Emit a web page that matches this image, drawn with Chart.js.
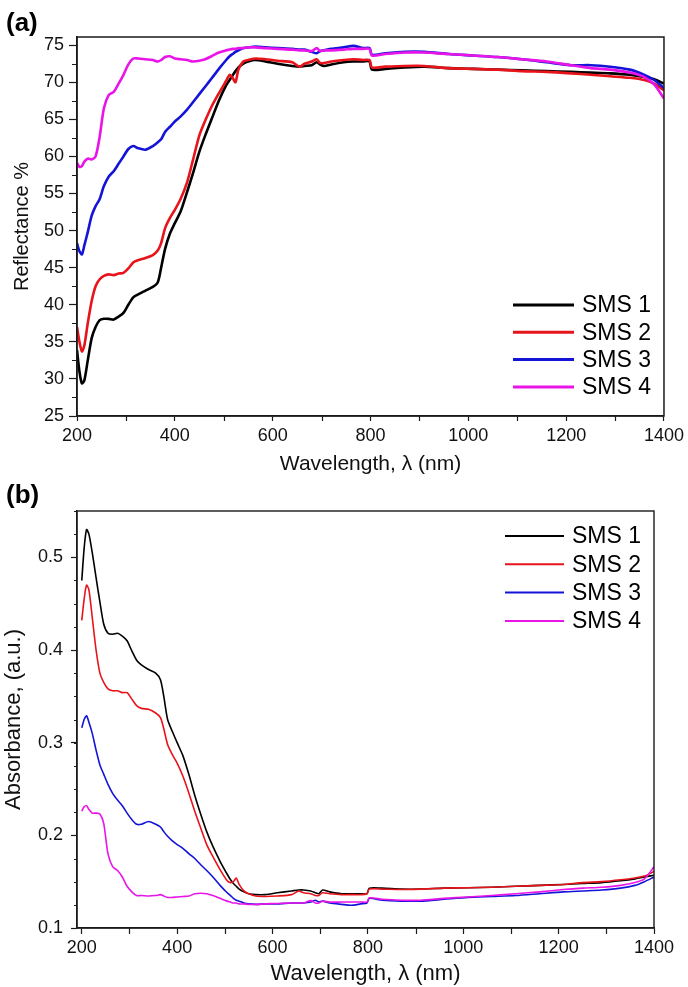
<!DOCTYPE html>
<html>
<head>
<meta charset="utf-8">
<script src="https://cdn.jsdelivr.net/npm/chart.js@4.4.1/dist/chart.umd.min.js"></script>
<style>
  html, body { margin: 0; padding: 0; background: #ffffff; }
  .panel { position: absolute; left: 0; width: 688px; }
  #panelA { top: 0; height: 480px; }
  #panelB { top: 480px; height: 507px; }
</style>
</head>
<body>
<div class="panel" id="panelA"><canvas id="reflectanceChart"></canvas></div>
<div class="panel" id="panelB"><canvas id="absorbanceChart"></canvas></div>
<script>
/* ==========================================================
   DATA
========================================================== */

const wavelengths = [
    200, 205, 210, 215, 222, 230, 238, 246, 255, 265,
    275, 285, 295, 305, 315, 325, 340, 355, 365, 372,
    380, 390, 400, 412, 425, 437, 450, 462, 475, 490,
    505, 512, 518, 524, 530, 540, 550, 565, 585, 610,
    640, 655, 665, 680, 690, 697, 705, 720, 745, 765,
    785, 798, 803, 830, 870, 910, 960, 1010, 1060, 1110,
    1160, 1210, 1250, 1290, 1330, 1360, 1380, 1400
];

// (a) Reflectance %
const sms1Reflectance = [
    33.9, 31.0, 29.4, 29.8, 32.5, 35.5, 37.0, 37.9, 38.1, 38.1,
    38.0, 38.4, 38.9, 40.0, 41.0, 41.4, 41.9, 42.4, 43.0, 45.0,
    47.5, 49.6, 51.0, 52.6, 55.2, 57.7, 60.6, 62.8, 65.0, 67.5,
    69.6, 70.3, 70.9, 71.5, 72.0, 72.5, 72.8, 73.0, 72.8, 72.5,
    72.2, 72.1, 72.2, 72.3, 72.7, 72.4, 72.2, 72.4, 72.7, 72.8,
    72.8, 72.8, 71.7, 71.8, 72.0, 72.1, 71.9, 71.8, 71.7, 71.6,
    71.5, 71.4, 71.3, 71.2, 71.0, 70.7, 70.4, 69.8
];
const sms2Reflectance = [
    37.0, 35.0, 33.7, 34.5, 37.5, 40.5, 42.5, 43.4, 43.9, 44.1,
    44.0, 44.2, 44.3, 44.9, 45.7, 46.0, 46.3, 46.7, 47.3, 48.3,
    50.3, 51.7, 52.8, 54.3, 56.5, 59.5, 62.8, 64.8, 66.7, 68.5,
    70.2, 71.0, 70.6, 70.0, 71.7, 72.8, 73.0, 73.2, 73.1, 72.9,
    72.7, 72.1, 72.5, 72.8, 73.1, 72.6, 72.6, 72.8, 73.0, 73.1,
    73.0, 73.0, 72.0, 72.1, 72.2, 72.2, 71.9, 71.8, 71.7, 71.5,
    71.4, 71.2, 71.0, 70.8, 70.6, 70.3, 69.8, 68.9
];
const sms3Reflectance = [
    48.3, 47.2, 46.8, 48.0, 49.8, 52.0, 53.3, 54.2, 56.0, 57.3,
    58.0, 59.0, 60.0, 61.0, 61.4, 61.1, 60.9, 61.4, 61.9, 62.3,
    63.3, 64.0, 64.7, 65.4, 66.3, 67.3, 68.4, 69.4, 70.5, 71.8,
    73.0, 73.5, 73.8, 74.1, 74.3, 74.6, 74.7, 74.8, 74.7, 74.6,
    74.5, 74.4, 74.4, 74.1, 73.9, 74.2, 74.3, 74.5, 74.7, 74.9,
    74.6, 74.6, 73.7, 73.9, 74.1, 74.1, 73.8, 73.6, 73.4, 73.1,
    72.7, 72.3, 72.3, 72.1, 71.7, 71.0, 70.3, 69.2
];
const sms4Reflectance = [
    59.1, 58.6, 58.7, 59.3, 59.7, 59.6, 60.0, 62.5, 66.5, 68.3,
    68.7, 69.8, 71.0, 72.4, 73.2, 73.2, 73.1, 73.0, 72.8, 73.0,
    73.4, 73.5, 73.2, 73.1, 73.0, 72.8, 72.9, 73.1, 73.5, 74.0,
    74.3, 74.4, 74.5, 74.5, 74.6, 74.6, 74.7, 74.7, 74.6, 74.5,
    74.4, 74.3, 74.3, 74.2, 74.6, 74.2, 74.3, 74.3, 74.4, 74.5,
    74.5, 74.5, 73.6, 73.8, 74.0, 74.0, 73.8, 73.6, 73.4, 73.1,
    72.8, 72.3, 71.9, 71.7, 71.3, 70.7, 69.7, 67.8
];

// (b) Absorbance (a.u.)
const sms1Absorbance = [
    0.475, 0.510, 0.530, 0.525, 0.505, 0.478, 0.452, 0.428, 0.418, 0.417,
    0.418, 0.415, 0.410, 0.399, 0.389, 0.384, 0.379, 0.375, 0.368, 0.350,
    0.325, 0.312, 0.300, 0.286, 0.265, 0.243, 0.222, 0.204, 0.188, 0.172,
    0.158, 0.152, 0.148, 0.145, 0.142, 0.139, 0.137, 0.136, 0.136, 0.138,
    0.140, 0.141, 0.141, 0.140, 0.138, 0.137, 0.141, 0.139, 0.137, 0.137,
    0.137, 0.137, 0.143, 0.143, 0.142, 0.142, 0.143, 0.1435, 0.144, 0.145,
    0.146, 0.147, 0.148, 0.149, 0.151, 0.153, 0.155, 0.157
];
const sms2Absorbance = [
    0.432, 0.455, 0.470, 0.465, 0.435, 0.400, 0.375, 0.365, 0.358, 0.356,
    0.356, 0.354, 0.354, 0.347, 0.340, 0.337, 0.336, 0.332, 0.327, 0.315,
    0.298, 0.287, 0.278, 0.264, 0.245, 0.226, 0.207, 0.190, 0.177, 0.163,
    0.151, 0.149, 0.150, 0.154, 0.147, 0.140, 0.137, 0.1345, 0.134, 0.1345,
    0.136, 0.140, 0.138, 0.137, 0.135, 0.135, 0.138, 0.137, 0.136, 0.136,
    0.136, 0.137, 0.142, 0.142, 0.1415, 0.142, 0.143, 0.1435, 0.144, 0.145,
    0.146, 0.147, 0.149, 0.150, 0.152, 0.154, 0.156, 0.161
];
const sms3Absorbance = [
    0.316, 0.325, 0.329, 0.322, 0.310, 0.292, 0.276, 0.266, 0.255, 0.245,
    0.238, 0.232, 0.224, 0.217, 0.212, 0.212, 0.215, 0.212, 0.209, 0.204,
    0.199, 0.194, 0.190, 0.186, 0.180, 0.175, 0.168, 0.162, 0.155, 0.146,
    0.138, 0.135, 0.132, 0.130, 0.129, 0.127, 0.126, 0.1255, 0.126, 0.126,
    0.127, 0.127, 0.127, 0.128, 0.130, 0.128, 0.129, 0.127, 0.1255, 0.1245,
    0.126, 0.127, 0.132, 0.130, 0.129, 0.129, 0.131, 0.133, 0.134, 0.135,
    0.137, 0.139, 0.140, 0.141, 0.143, 0.146, 0.150, 0.155
];
const sms4Absorbance = [
    0.226, 0.231, 0.232, 0.228, 0.224, 0.224, 0.223, 0.213, 0.180, 0.166,
    0.162, 0.155, 0.145, 0.139, 0.135, 0.135, 0.1345, 0.135, 0.136, 0.1345,
    0.133, 0.133, 0.1335, 0.134, 0.1345, 0.137, 0.1375, 0.137, 0.135, 0.132,
    0.129, 0.128, 0.127, 0.127, 0.126, 0.126, 0.1255, 0.1255, 0.126, 0.1265,
    0.127, 0.127, 0.127, 0.1295, 0.127, 0.127, 0.129, 0.128, 0.128, 0.128,
    0.128, 0.128, 0.1325, 0.131, 0.130, 0.130, 0.132, 0.1335, 0.135, 0.137,
    0.139, 0.1415, 0.143, 0.144, 0.146, 0.149, 0.153, 0.166
];

const sampleLabels = ["SMS 1", "SMS 2", "SMS 3", "SMS 4"];
const sampleColors = ["#000000", "#e8141b", "#1414d8", "#e814e8"];

const wavelengthTicks = [200, 400, 600, 800, 1000, 1200, 1400];
const reflectanceTicks = [25, 30, 35, 40, 45, 50, 55, 60, 65, 70, 75];
const absorbanceTicks = [0.1, 0.2, 0.3, 0.4, 0.5];

const FONT = "'Liberation Sans', Arial, sans-serif";

/* ==========================================================
   FRAME + MINOR TICKS + PANEL LABEL + LEGEND
========================================================== */

const figureDecorPlugin = {

    id: "figureDecor",

    afterDraw(chart, args, opts) {

        const {
            ctx,
            chartArea: { left, right, top, bottom },
            scales: { x, y }
        } = chart;

        ctx.save();

        // box round the plot
        ctx.strokeStyle = "#1a1a1a";
        ctx.lineWidth = opts.frameWidth;
        ctx.strokeRect(left, top, right - left, bottom - top);

        // minor ticks
        ctx.lineWidth = 1.2;
        ctx.beginPath();
        for (let v = opts.xMinorStart; v <= x.max + 1e-9; v += opts.xMinorStep) {
            const px = Math.round(x.getPixelForValue(v)) + 0.5;
            ctx.moveTo(px, bottom);
            ctx.lineTo(px, bottom + opts.xMinorLength);
        }
        for (let v = opts.yMinorStart; v <= y.max + 1e-9; v += opts.yMinorStep) {
            const py = Math.round(y.getPixelForValue(v)) + 0.5;
            ctx.moveTo(left, py);
            ctx.lineTo(left - opts.yMinorLength, py);
        }
        ctx.stroke();

        // panel label
        ctx.fillStyle = "#000000";
        ctx.font = opts.labelFont;
        ctx.textAlign = "left";
        ctx.textBaseline = "middle";
        ctx.fillText(opts.label, opts.labelX, opts.labelY);

        // legend
        const lg = opts.legend;
        ctx.font = lg.font;
        chart.data.datasets.forEach((ds, i) => {
            const ly = lg.y + i * lg.rowHeight;
            ctx.strokeStyle = ds.borderColor;
            ctx.lineWidth = lg.lineWidth;
            ctx.beginPath();
            ctx.moveTo(lg.x, ly);
            ctx.lineTo(lg.x + lg.lineLength, ly);
            ctx.stroke();
            ctx.fillStyle = "#000000";
            ctx.fillText(ds.label, lg.x + lg.lineLength + lg.gap, ly + 1);
        });

        ctx.restore();

    }

};

Chart.register(figureDecorPlugin);

/* ==========================================================
   GENERIC PANEL RENDERER
========================================================== */

function buildDatasets(series, lineWidth) {

    return series.map((values, i) => ({
        label: sampleLabels[i],
        data: wavelengths.map((w, j) => ({ x: w, y: values[j] })),
        borderColor: sampleColors[i],
        backgroundColor: sampleColors[i],
        borderWidth: lineWidth,
        pointRadius: 0,
        tension: 0.25,
        // SMS 4 on top, SMS 1 at the bottom
        order: series.length - i
    }));

}

function renderPanel(canvasId, p) {

    const canvas = document.getElementById(canvasId);

    const tickFont = { family: FONT, size: p.tickSize };

    return new Chart(canvas, {

        type: "line",

        data: {
            datasets: buildDatasets(p.series, p.lineWidth)
        },

        options: {

            responsive: true,
            maintainAspectRatio: false,
            animation: false,

            layout: {
                padding: { left: 0, right: p.padRight, top: p.padTop, bottom: 0 }
            },

            scales: {

                x: {
                    type: "linear",
                    min: p.xMin,
                    max: 1400,
                    afterBuildTicks: s => { s.ticks = wavelengthTicks.map(v => ({ value: v })); },
                    afterFit: s => { s.height = p.xAxisHeight; },
                    grid: {
                        drawOnChartArea: false,
                        tickLength: p.xTickLength,
                        tickColor: "#1a1a1a",
                        tickWidth: 1.2
                    },
                    border: { color: "#1a1a1a", width: p.frameWidth },
                    ticks: {
                        color: "#111111",
                        font: tickFont,
                        padding: p.xTickPad,
                        maxRotation: 0,
                        autoSkip: false,
                        callback: v => String(v)
                    },
                    title: {
                        display: true,
                        text: "Wavelength, \u03bb (nm)",
                        color: "#111111",
                        font: { family: FONT, size: p.xTitleSize },
                        padding: { top: 0, bottom: p.xTitlePad }
                    }
                },

                y: {
                    type: "linear",
                    min: p.yMin,
                    max: p.yMax,
                    afterBuildTicks: s => { s.ticks = p.yTicks.map(v => ({ value: v })); },
                    afterFit: s => { s.width = 77; },
                    grid: {
                        drawOnChartArea: false,
                        tickLength: p.yTickLength,
                        tickColor: "#1a1a1a",
                        tickWidth: 1.2
                    },
                    border: { color: "#1a1a1a", width: p.frameWidth },
                    ticks: {
                        color: "#111111",
                        font: tickFont,
                        padding: p.yTickPad,
                        autoSkip: false,
                        callback: v => String(v)
                    },
                    title: {
                        display: true,
                        text: p.yTitle,
                        color: "#111111",
                        font: { family: FONT, size: p.yTitleSize },
                        padding: { top: p.yTitlePad, bottom: 0 }
                    }
                }

            },

            plugins: {

                legend: { display: false },
                tooltip: { enabled: false },

                figureDecor: {
                    frameWidth: p.frameWidth,
                    xMinorStart: 300,
                    xMinorStep: 200,
                    xMinorLength: p.xTickLength,
                    yMinorStart: p.yMinorStart,
                    yMinorStep: p.yMinorStep,
                    yMinorLength: p.yMinorLength,
                    label: p.label,
                    labelX: 6,
                    labelY: p.labelY,
                    labelFont: "bold 26px " + FONT,
                    legend: p.legend
                }

            }

        }

    });

}

/* ==========================================================
   RENDER BOTH PANELS
========================================================== */

renderPanel("reflectanceChart", {
    label: "(a)",
    labelY: 24,
    series: [sms1Reflectance, sms2Reflectance, sms3Reflectance, sms4Reflectance],
    lineWidth: 2.6,
    frameWidth: 1.5,
    padTop: 37,
    padRight: 22,
    xMin: 200,
    xAxisHeight: 64,
    xTickLength: 5,
    xTickPad: 4,
    xTitlePad: 3,
    yMin: 25,
    yMax: 76.1,
    yTicks: reflectanceTicks,
    yTickLength: 8,
    yTickPad: 5,
    yMinorStart: 27.5,
    yMinorStep: 5,
    yMinorLength: 5,
    yTitle: "Reflectance %",
    yTitlePad: 10,
    tickSize: 18,
    xTitleSize: 21,
    yTitleSize: 20,
    legend: { x: 513, y: 305, lineLength: 61, gap: 8, rowHeight: 27.3, lineWidth: 3, font: "23px " + FONT }
});

renderPanel("absorbanceChart", {
    label: "(b)",
    labelY: 16,
    series: [sms1Absorbance, sms2Absorbance, sms3Absorbance, sms4Absorbance],
    lineWidth: 1.6,
    frameWidth: 1.4,
    padTop: 31,
    padRight: 34,
    xMin: 190,
    xAxisHeight: 59,
    xTickLength: 6,
    xTickPad: 3,
    xTitlePad: 0,
    yMin: 0.1,
    yMax: 0.55,
    yTicks: absorbanceTicks,
    yTickLength: 6,
    yTickPad: 8,
    yMinorStart: 0.125,
    yMinorStep: 0.025,
    yMinorLength: 3,
    yTitle: "Absorbance, (a.u.)",
    yTitlePad: 1,
    tickSize: 18,
    xTitleSize: 22,
    yTitleSize: 22,
    legend: { x: 505, y: 56, lineLength: 59, gap: 8, rowHeight: 28.3, lineWidth: 2, font: "23px " + FONT }
});
</script>
</body>
</html>
